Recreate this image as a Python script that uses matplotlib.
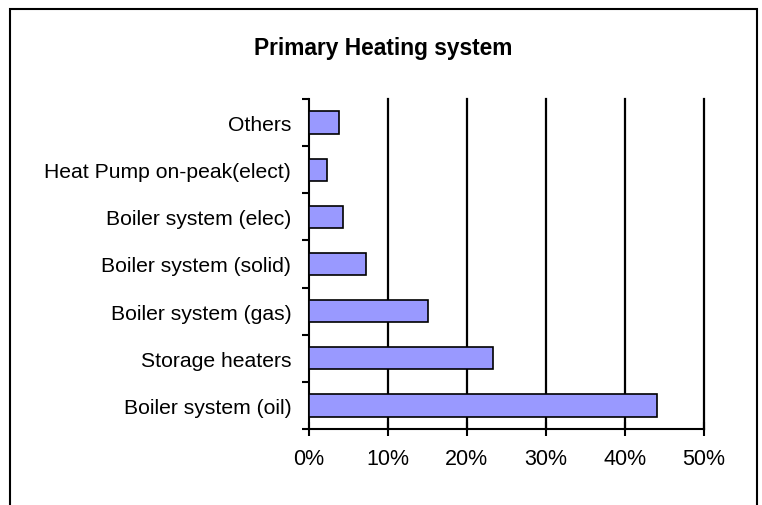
import matplotlib.pyplot as plt
from matplotlib.patches import Rectangle
from matplotlib.ticker import FuncFormatter

plt.rcParams['font.family'] = ['Liberation Sans', 'DejaVu Sans']

# ── Data ────────────────────────────────────────────────────
systems = [
    "Boiler system (oil)",
    "Storage heaters",
    "Boiler system (gas)",
    "Boiler system (solid)",
    "Boiler system (elec)",
    "Heat Pump on-peak(elect)",
    "Others",
]
shares = [44.0, 23.3, 15.1, 7.3, 4.3, 2.3, 3.8]
x_ticks = [0, 10, 20, 30, 40, 50]

# ── Figure & frame ──────────────────────────────────────────
fig = plt.figure(figsize=(7.62, 5.06), dpi=100)
fig.patches.append(Rectangle((10 / 762, -0.05), 747 / 762, 1.05 - 10 / 506,
                             transform=fig.transFigure, fill=False,
                             edgecolor="black", linewidth=1.5, clip_on=False))

ax = fig.add_axes([308.5 / 762, 76 / 506, 395.5 / 762, 330 / 506])

pos = range(len(systems))
ax.barh(pos, shares, height=0.47, color="#9999FF", edgecolor="black",
        linewidth=1.2, zorder=3)

ax.set_xlim(0, 50)
ax.set_ylim(-0.5, len(systems) - 0.5)
ax.set_xticks(x_ticks)
ax.xaxis.set_major_formatter(FuncFormatter(lambda v, _: f"{v:.0f}%"))

# category boundaries get the tick marks, category centres get the labels
ax.set_yticks([p - 0.5 for p in range(len(systems) + 1)])
ax.set_yticklabels([])
ax.set_yticks(list(pos), minor=True)
ax.set_yticklabels(systems, minor=True)

# vertical gridlines
for t in x_ticks[1:]:
    ax.axvline(t, color="black", linewidth=1.6, zorder=1, clip_on=False)

for side in ("top", "right"):
    ax.spines[side].set_visible(False)
for side in ("left", "bottom"):
    ax.spines[side].set_linewidth(1.5)

ax.tick_params(axis="x", direction="inout", length=10, width=1.5,
               labelsize=15.5, pad=9)
ax.tick_params(axis="y", which="major", direction="out", length=5, width=1.5)
ax.tick_params(axis="y", which="minor", length=0, labelsize=15.2, pad=12.5)

fig.text(383.5 / 762, 1 - 49 / 506, "Primary Heating system",
         fontsize=16.4, fontweight="bold", ha="center", va="center")

fig.savefig("out.png", dpi=100)
